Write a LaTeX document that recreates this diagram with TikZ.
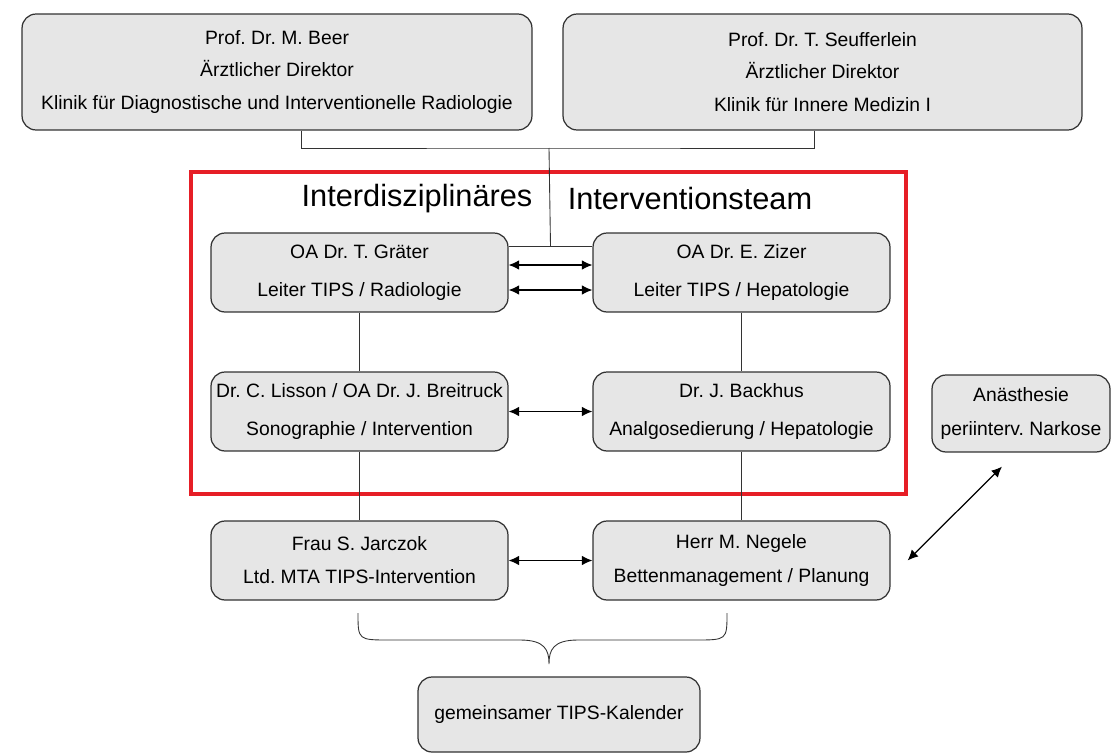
\documentclass[tikz,border=0pt]{standalone}
\usepackage{fontspec}
\setmainfont{Liberation Sans}
\usetikzlibrary{arrows.meta}
\definecolor{boxfill}{RGB}{230,230,230}
\definecolor{boxline}{RGB}{50,50,50}
\definecolor{teamred}{RGB}{230,30,38}
\frenchspacing
\begin{document}
\begin{tikzpicture}[x=0.02cm,y=-0.02cm,
  box/.style={draw=boxline,fill=boxfill,line width=.7pt,rounded corners=8pt,align=center,inner sep=0pt},
  topbox/.style={box,minimum width=10.2cm,minimum height=2.32cm,font=\fontsize{11}{18.4}\selectfont},
  teambox/.style={box,minimum width=5.94cm,minimum height=1.58cm,font=\fontsize{11}{21.8}\selectfont},
  lowbox/.style={box,minimum width=5.94cm,minimum height=1.58cm,font=\fontsize{11}{18.8}\selectfont},
  link/.style={draw=black!80,line width=.5pt},
  both/.style={draw=black,line width=.7pt,{Latex[length=6pt,width=5.5pt]}-{Latex[length=6pt,width=5.5pt]}}]
\useasboundingbox (0,0) rectangle (1119,754);

% Klinikleitung
\node[topbox] (beer) at (277,72) {Prof. Dr. M. Beer\\ Ärztlicher Direktor\\ Klinik für Diagnostische und Interventionelle Radiologie};
\node[topbox,minimum width=10.38cm] (seuff) at (822.5,72) {Prof. Dr. T. Seufferlein\\ Ärztlicher Direktor\\ Klinik für Innere Medizin I};

% Interventionsteam
\draw[teamred,line width=2pt] (191,172) rectangle (906,494);
\node[font=\fontsize{17.5}{20}\selectfont] (title1) at (417,199) {Interdisziplinäres};
\node[font=\fontsize{17.5}{20}\selectfont] (title2) at (690,199) {Interventionsteam};

\node[teambox] (graeter) at (359.5,272.5) {OA Dr. T. Gräter\\ Leiter TIPS / Radiologie};
\node[teambox] (zizer) at (741.5,272.5) {OA Dr. E. Zizer\\ Leiter TIPS / Hepatologie};
\node[teambox] (lisson) at (359.5,411.5) {Dr. C. Lisson / OA Dr. J. Breitruck\\ Sonographie / Intervention};
\node[teambox] (backhus) at (741.5,411.5) {Dr. J. Backhus\\ Analgosedierung / Hepatologie};

% Organisation
\node[lowbox] (jarczok) at (359.5,560.5) {Frau S. Jarczok\\ Ltd. MTA TIPS-Intervention};
\node[lowbox] (negele) at (741.5,560.5) {Herr M. Negele\\ Bettenmanagement / Planung};
\node[lowbox,minimum width=3.56cm,minimum height=1.54cm,font=\fontsize{11}{19.3}\selectfont] (anae) at (1021,413.5) {Anästhesie\\ periinterv. Narkose};
\node[lowbox,minimum width=5.64cm,minimum height=1.5cm] (kalender) at (559,714.5) {gemeinsamer TIPS-Kalender};

% Verbindungen
\coordinate (join) at (549,148);
\draw[link] ([xshift=.48cm]beer.south) |- (join) -| ([xshift=-.17cm]seuff.south);
\draw[link] ([yshift=.53cm]graeter.east) -- coordinate (mid) ([yshift=.53cm]zizer.west);
\draw[link] (join) -- (mid);
\draw[both] ([yshift=.15cm]graeter.east) -- ([yshift=.15cm]zizer.west);
\draw[both] ([yshift=-.35cm]graeter.east) -- ([yshift=-.35cm]zizer.west);
\draw[both] (lisson) -- (backhus);
\draw[both] (jarczok) -- (negele);
\draw[link] (graeter) -- (lisson);
\draw[link] (zizer) -- (backhus);
\draw[link] (lisson) -- (jarczok);
\draw[link] (backhus) -- (negele);
\draw[both] ([shift={(-.38cm,-.28cm)}]anae.south) -- ([xshift=.34cm]negele.east);

% Klammer
\draw[link] (358,613) .. controls (358,640) .. (390,640) -- (520,640)
  .. controls (545,640) and (549,650) .. (549,664)
  .. controls (549,650) and (553,640) .. (578,640) -- (695,640)
  .. controls (727,640) .. (727,613);

\end{tikzpicture}
\end{document}
